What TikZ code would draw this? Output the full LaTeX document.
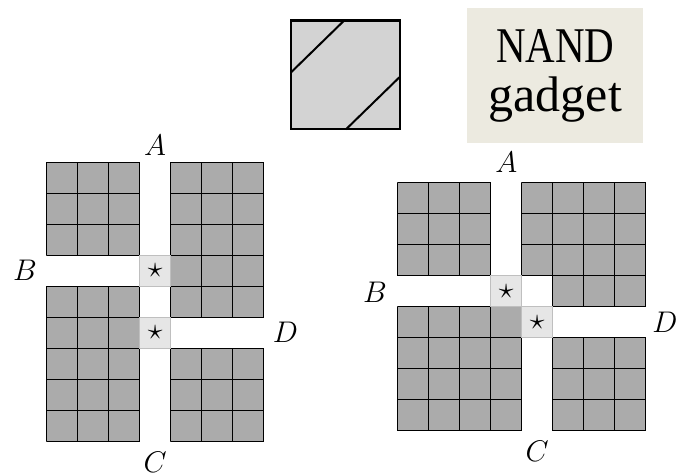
\documentclass[tikz,border=0pt]{standalone}
\usepackage{fontspec}
\usepackage{graphicx}
\newfontfamily\gadgetfont{Liberation Serif}
\definecolor{blockgray}{RGB}{171,171,171}
\definecolor{stargray}{RGB}{230,230,230}
\definecolor{tilegray}{RGB}{211,211,211}
\definecolor{notebeige}{RGB}{236,234,224}
\tikzset{
  block/.style={fill=blockgray, draw=black!75, line width=0.7pt},
  starcell/.style={fill=stargray, draw=black!25, line width=0.7pt},
  cellgrid/.style={step=31pt, line width=0.8pt},
  lbl/.style={font=\Huge, scale=1.2, transform shape, inner sep=0pt},
}

\begin{document}
\begin{tikzpicture}[x=1pt, y=1pt]
		%%%%% START %%%%%
		\useasboundingbox (0,0) rectangle (679,474);
		
		\draw[fill=tilegray, line width=2.4pt] (290.7,344.7) rectangle (400,453.3);
		\draw[line width=2pt] (344,453.3) -- (290.7,401.3);
		\draw[line width=2pt] (400,397.3) -- (346,344.7);
		
		\node[fill=notebeige, minimum width=176pt, minimum height=135pt, inner sep=0pt, align=center, font=\gadgetfont\fontsize{50}{49}\selectfont] (nand) at (555.3,398.2) {\scalebox{0.82}[1]{NAND}\\\scalebox{1.0}[1]{gadget}};
		
		%%%%% LEFT %%%%%
		\begin{scope}[xshift=46.7pt, yshift=33pt, x=31pt, y=31pt]
			\draw[block] (0,6) rectangle (3,9);
			\draw[cellgrid] (0,6) grid (3,9);
			\draw[block] (4,4) rectangle (7,9);
			\draw[cellgrid] (4,4) grid (7,9);
			\draw[block] (0,0) rectangle (3,5);
			\draw[cellgrid] (0,0) grid (3,5);
			\draw[block] (4,0) rectangle (7,3);
			\draw[cellgrid] (4,0) grid (7,3);
			
			\draw[starcell] (3,5) rectangle (4,6);
			\draw[starcell] (3,3) rectangle (4,4);
			\node[lbl] (lstarB) at (3.5,5.5) {$\star$};
			\node[lbl] (lstarD) at (3.5,3.5) {$\star$};
			
			\node[lbl] (lA) at (3.5,9.55) {$A$};
			\node[lbl] (lB) at (-0.7,5.5) {$B$};
			\node[lbl] (lC) at (3.5,-0.7) {$C$};
			\node[lbl] (lD) at (7.7,3.5) {$D$};
		\end{scope}
		
		%%%%% RIGHT %%%%%
		\begin{scope}[xshift=397.7pt, yshift=43.3pt, x=31pt, y=31pt]
			\draw[block] (0,5) rectangle (3,8);
			\draw[cellgrid] (0,5) grid (3,8);
			\draw[block] (4,5) -- (4,8) -- (8,8) -- (8,4) -- (5,4) -- (5,5) -- cycle;
			\draw[cellgrid] (4,5) grid (8,8);
			\draw[cellgrid] (5,4) grid (8,5);
			\draw[block] (0,0) rectangle (4,4);
			\draw[cellgrid] (0,0) grid (4,4);
			\draw[block] (5,0) rectangle (8,3);
			\draw[cellgrid] (5,0) grid (8,3);
			
			\draw[starcell] (3,4) rectangle (4,5);
			\draw[starcell] (4,3) rectangle (5,4);
			\node[lbl] (rstarB) at (3.5,4.5) {$\star$};
			\node[lbl] (rstarD) at (4.5,3.5) {$\star$};
			
			\node[lbl] (rA) at (3.5,8.65) {$A$};
			\node[lbl] (rB) at (-0.73,4.45) {$B$};
			\node[lbl] (rC) at (4.5,-0.68) {$C$};
			\node[lbl] (rD) at (8.62,3.5) {$D$};
		\end{scope}
		
		%%%%% END %%%%%
\end{tikzpicture}
\end{document}
